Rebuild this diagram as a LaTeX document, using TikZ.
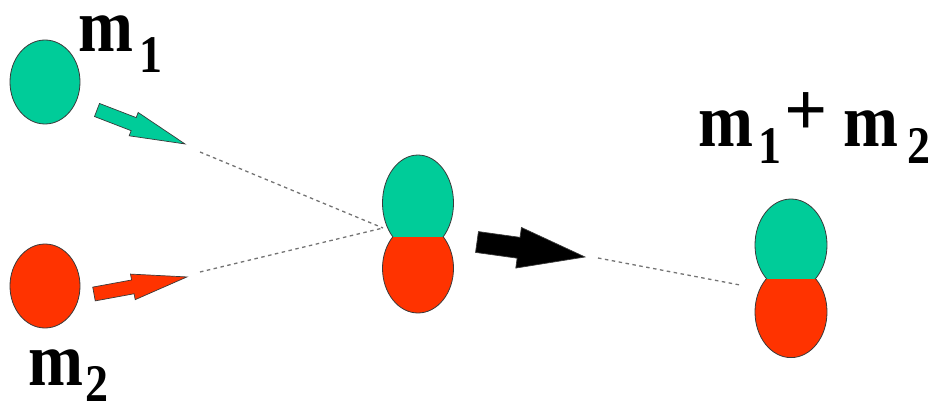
\documentclass[tikz,border=0pt]{standalone}
\usepackage{fontspec}
\setmainfont{Liberation Serif}
\usetikzlibrary{shapes.geometric}
\definecolor{tgreen}{HTML}{00CC99}
\definecolor{tred}{HTML}{FF3300}
\definecolor{edge}{HTML}{3A3A3A}
\newcommand{\blockarr}[7]{%
  \begin{scope}[shift={#1},rotate=#2]
    \filldraw[fill=#7,draw=edge,line width=0.7pt,line join=miter]
      (0,-#4) -- ({#3-#6},-#4) -- ({#3-#6},-#5) -- (#3,0)
      -- ({#3-#6},#5) -- ({#3-#6},#4) -- (0,#4) -- cycle;
  \end{scope}}
\newcommand{\lblm}[3]{\scalebox{1}[1.15]{\fontsize{66}{70}\selectfont\bfseries m\kern#3pt\raisebox{-#2pt}{\fontsize{46}{46}\selectfont #1}}}
\newcommand{\tightbox}[3]{\raisebox{0pt}[#1pt][#2pt]{#3}}
\tikzset{
  ball/.style={ellipse,draw=edge,line width=0.8pt,inner sep=0pt,minimum width=70pt,minimum height=84pt},
  guide/.style={draw=black!55,line width=1.3pt,dash pattern=on 3.5pt off 3.5pt},
  lbl/.style={inner sep=0pt,anchor=base west},
  half/.style={draw=edge,line width=0.8pt}
}
\begin{document}
\begin{tikzpicture}[x=1pt,y=1pt]
\useasboundingbox (0,0) rectangle (935,405);
% single masses
\node[ball,fill=tgreen] (b1) at (45,323) {};
\node[ball,fill=tred] (b2) at (45,119) {};
% labels
\node[lbl] (t1) at (78,353) {\tightbox{40}{20}{\lblm{1}{18}{6}}};
\node[lbl] (t2) at (28,20) {\tightbox{38}{17}{\lblm{2}{14}{2}}};
\node[lbl] (t3) at (698,258) {\tightbox{46}{18}{\lblm{1}{14}{5}\kern3pt\raisebox{11pt}{\fontsize{76}{76}\selectfont\bfseries +}\kern16pt\lblm{2}{14}{9}}};
% approach arrows
\blockarr{(97,295)}{-21.1}{94.3}{7}{12.5}{55}{tgreen}
\blockarr{(94,111)}{10.4}{94.5}{7}{13}{55}{tred}
% guide lines
\coordinate (g1s) at (200,253);
\coordinate (g2s) at (200,133);
\coordinate (meet) at (383,177);
\draw[guide] (g1s) -- (meet);
\draw[guide] (g2s) -- (meet);
% middle compound
\begin{scope}
  \clip (360,168) rectangle (480,260);
  \filldraw[fill=tgreen,half] (418,202) ellipse [x radius=35.5,y radius=48];
\end{scope}
\begin{scope}
  \clip (360,168) rectangle (480,80);
  \filldraw[fill=tred,half] (418,136.7) ellipse [x radius=35.5,y radius=44.7];
\end{scope}
% big arrow
\blockarr{(477,163)}{-7.9}{109}{10.5}{20.5}{67}{black}
\coordinate (g3s) at (598,147);
\coordinate (g3e) at (740,120);
\draw[guide] (g3s) -- (g3e);
% final compound
\begin{scope}
  \clip (740,126) rectangle (850,220);
  \filldraw[fill=tgreen,half] (791,160) ellipse [x radius=36,y radius=46];
\end{scope}
\begin{scope}
  \clip (740,126) rectangle (850,40);
  \filldraw[fill=tred,half] (791,93) ellipse [x radius=36,y radius=45.6];
\end{scope}
\end{tikzpicture}
\end{document}
